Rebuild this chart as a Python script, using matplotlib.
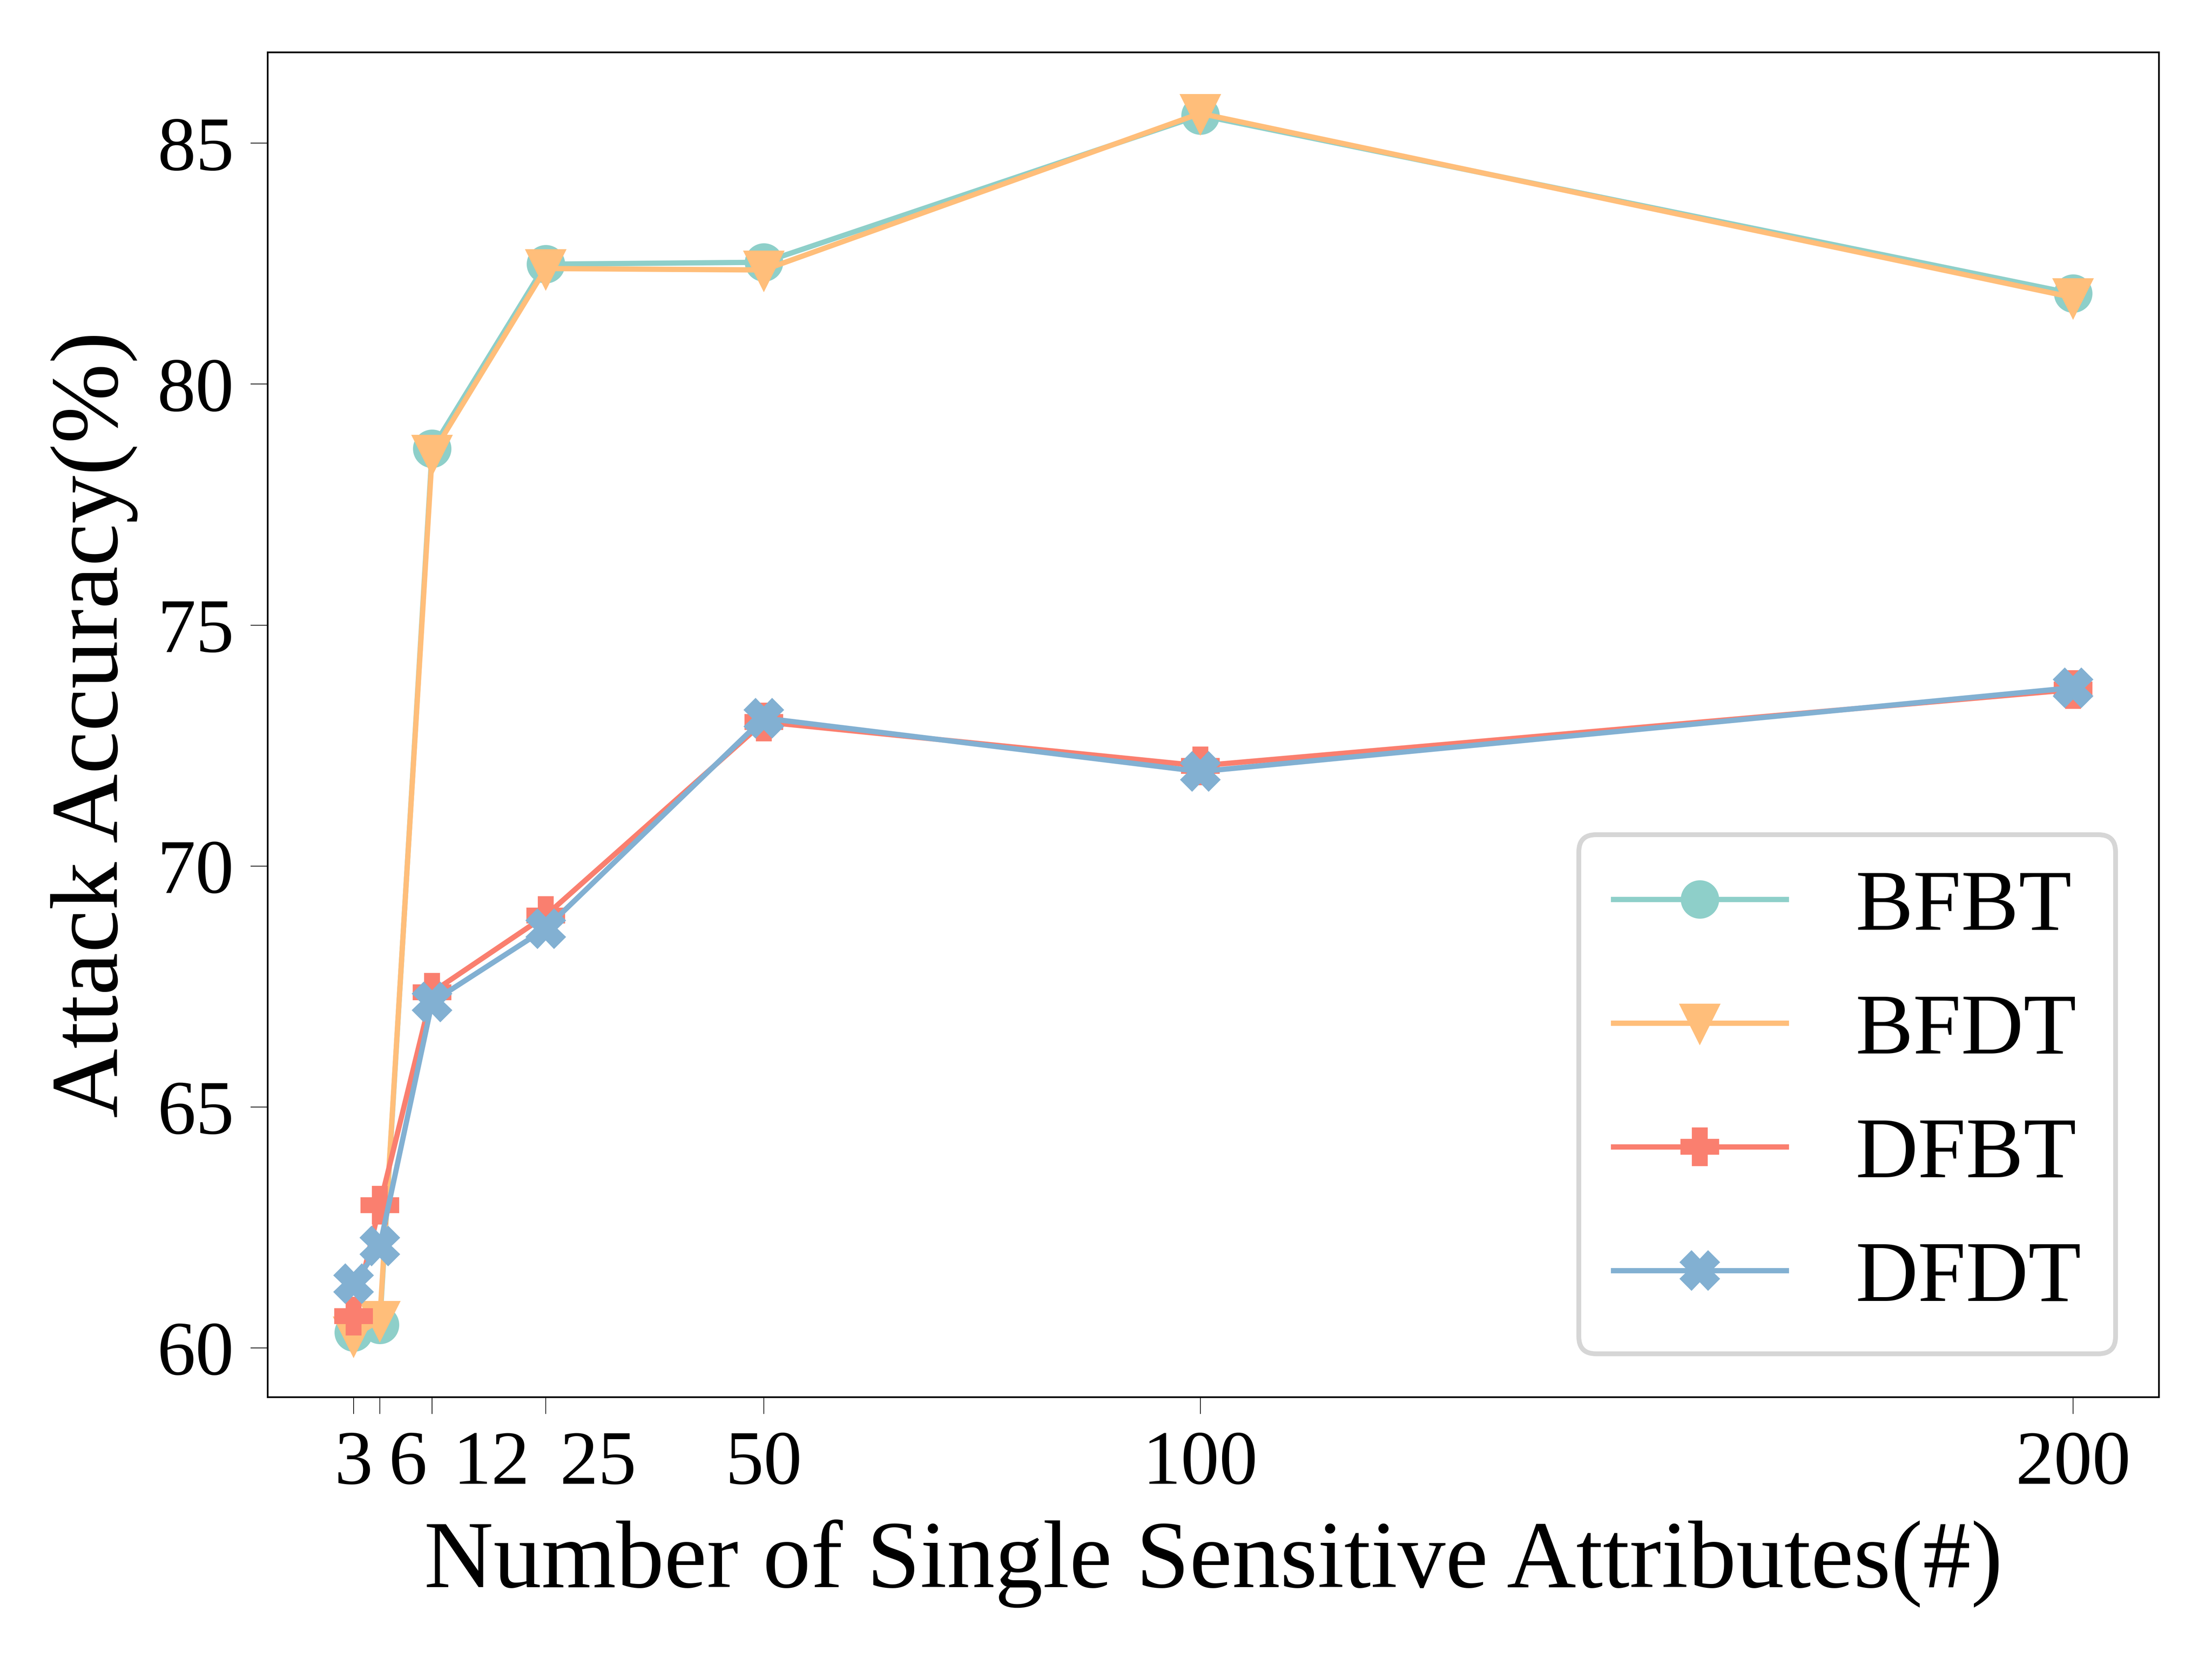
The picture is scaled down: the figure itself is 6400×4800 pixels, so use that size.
import matplotlib
matplotlib.use("Agg")
import matplotlib.pyplot as plt

# number of single sensitive attributes
num_attrs = [3, 6, 12, 25, 50, 100, 200]
tick_labels = ["3", "6", "12", "25", "50", "100", "200"]
# where the crowded labels were written on the original x axis
shifted_label_pos = [9.2, 18.8, 31.0]

bfbt = [60.32, 60.48, 78.66, 82.49, 82.53, 85.58, 81.88]
bfdt = [60.25, 60.57, 78.55, 82.40, 82.37, 85.62, 81.80]
dfbt = [60.66, 62.96, 67.38, 68.97, 72.99, 72.08, 73.66]
dfdt = [61.33, 62.11, 67.18, 68.70, 73.07, 71.96, 73.70]

names = ["BFBT", "BFDT", "DFBT", "DFDT"]
colors = ["#8ECFC9", "#FFBE7A", "#FA7F6F", "#82B0D2"]
markers = ["o", "v", "P", "X"]

plt.rcParams["font.family"] = ["Liberation Serif", "DejaVu Serif"]

fig, ax = plt.subplots(figsize=(6.4, 4.8), dpi=1000)
fig.subplots_adjust(left=0.121, right=0.976, bottom=0.158, top=0.9685)

for vals, name, c, m in zip([bfbt, bfdt, dfbt, dfdt], names, colors, markers):
    ax.plot(num_attrs, vals, color=c, marker=m, markersize=7, linewidth=1.1, label=name)

# major ticks at the data points, labels for the crowded ones on minor ticks
ax.set_xticks(num_attrs)
ax.set_xticklabels([tick_labels[0], "", "", "", tick_labels[4], tick_labels[5], tick_labels[6]])
ax.set_xticks(shifted_label_pos, minor=True)
ax.set_xticklabels(tick_labels[1:4], minor=True)
ax.tick_params(axis="both", which="major", labelsize=16, width=0.15, length=3.5, pad=3.5)
ax.tick_params(axis="x", which="minor", labelsize=16, length=0, pad=7.0)
ax.set_yticks([60, 65, 70, 75, 80, 85])

for sp in ax.spines.values():
    sp.set_linewidth(0.35)

ax.set_xlabel("Number of Single Sensitive Attributes(#)", fontsize=20, labelpad=4)
ax.set_ylabel("Attack Accuracy(%)", fontsize=20)

ax.legend(loc="lower right", fontsize=18, labelspacing=0.52)

fig.savefig("out.png", dpi=1000)
